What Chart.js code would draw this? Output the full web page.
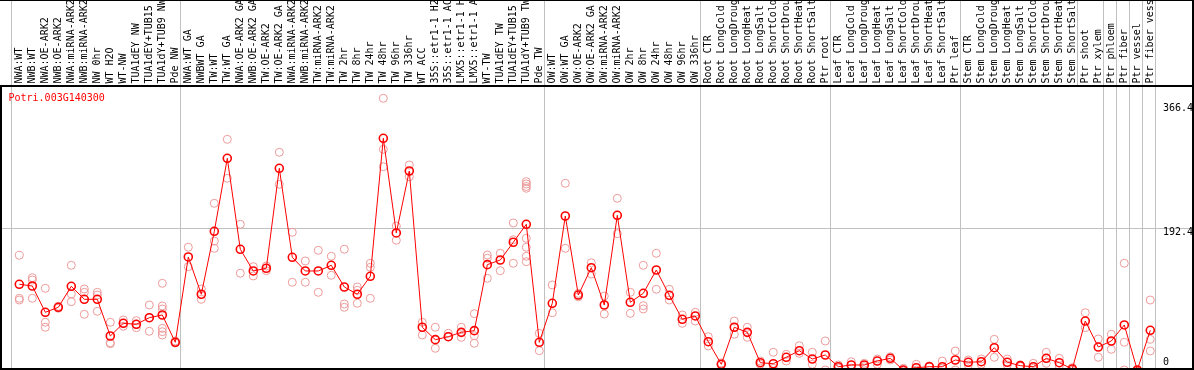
<!DOCTYPE html>
<html>
<head>
<meta charset="utf-8">
<script src="https://cdn.jsdelivr.net/npm/chart.js@4/dist/chart.umd.min.js"></script>
<style>
html,body{margin:0;padding:0;background:#fff;}
canvas{display:block;}
</style>
</head>
<body>
<canvas id="c" width="1194" height="370"></canvas>
<script>
const geneId = 'Potri.003G140300';

const categories = [
  'NWA:WT','NWB:WT','NWA:OE-ARK2','NWB:OE-ARK2','NWA:miRNA-ARK2','NWB:miRNA-ARK2','NW 0hr','WT H2O','WT-NW',
  'TUA1dEY NW','TUA1dEY+TUB15 NW','TUA1dY+TUB9 NW','Pde NW',
  'NWA:WT GA','NWBWT GA','TW:WT','TW:WT GA','NWA:OE-ARK2 GA','NWB:OE-ARK2 GA','TW:OE-ARK2','TW:OE-ARK2 GA',
  'NWA:miRNA-ARK2','NWB:miRNA-ARK2','TW:miRNA-ARK2','TW:miRNA-ARK2','TW 2hr','TW 8hr','TW 24hr','TW 48hr',
  'TW 96hr','TW 336hr','WT ACC','35S::etr1-1 H2O','35S::etr1-1 ACC','LMX5::etr1-1 H2O','LMX5::etr1-1 ACC',
  'WT-TW','TUA1dEY TW','TUA1dEY+TUB15 TW','TUA1dY+TUB9 TW','Pde TW',
  'OW:WT','OW:WT GA','OW:OE-ARK2','OW:OE-ARK2 GA','OW:miRNA-ARK2','OW:miRNA-ARK2','OW 2hr','OW 8hr','OW 24hr',
  'OW 48hr','OW 96hr','OW 336hr',
  'Root CTR','Root LongCold','Root LongDrought','Root LongHeat','Root LongSalt','Root ShortCold',
  'Root ShortDrought','Root ShortHeat','Root ShortSalt','Ptr root',
  'Leaf CTR','Leaf LongCold','Leaf LongDrought','Leaf LongHeat','Leaf LongSalt','Leaf ShortCold',
  'Leaf ShortDrought','Leaf ShortHeat','Leaf ShortSalt','Ptr leaf',
  'Stem CTR','Stem LongCold','Stem LongDrought','Stem LongHeat','Stem LongSalt','Stem ShortCold',
  'Stem ShortDrought','Stem ShortHeat','Stem ShortSalt','Ptr shoot',
  'Ptr xylem','Ptr phloem','Ptr fiber','Ptr vessel','Ptr fiber vessel'
];

const means = [
  112.1, 109.6, 71.7, 78.9, 109.2, 90.4, 90.4, 37.5, 55.8, 54.4, 63.9, 67.8, 28.4,
  151.5, 97.7, 188.5, 293.8, 162.6, 131.3, 135.2, 279.4, 151.0, 131.3, 131.3, 139.5, 108.2, 97.7, 123.6, 322.7,
  186.1, 275.5, 50.1, 32.2, 36.5, 42.8, 45.2, 140.4, 147.1, 172.7, 198.6, 28.4,
  84.7, 210.6, 96.6, 136.0, 82.2, 211.6, 86.1, 99.1, 132.7, 96.2, 61.6, 66.4,
  29.3, -3.3, 50.1, 42.8, -1.0, -2.5, 6.8, 16.3, 4.3, 10.1,
  -6.8, -4.3, -4.3, 1.4, 5.3, -11.5, -8.2, -6.8, -6.8, 2.9,
  -0.4, 0.4, 20.6, -0.4, -5.3, -6.8, 5.3, -1.0, -10.1, 59.1,
  21.6, 30.3, 53.4, -11.5, 45.7
];

const replicates = [
  [153.9, 91.9, 89.4], [121.6, 118.3, 91.9], [106.3, 57.3, 50.1], [80.3, 77.5], [139.5, 98.1, 87.0],
  [105.3, 100.5, 68.8], [100.5, 96.6, 73.1], [57.3, 27.8, 26.4], [60.6, 55.8, 51.5], [59.6, 54.4, 49.5],
  [82.2, 63.9, 44.3], [113.5, 80.8, 76.5, 48.6, 43.7, 38.9], [30.3, 27.4],
  [165.5, 137.5], [105.3, 90.4], [228.9, 174.5, 164.0], [321.2, 265.0], [198.6, 128.0], [137.5, 124.1],
  [138.5, 131.7], [302.5, 256.3], [187.1, 115.0], [145.7, 115.0], [161.1, 100.5], [152.5, 125.1],
  [162.6, 83.7, 78.9], [108.2, 103.4, 84.7], [142.4, 136.6, 91.9], [380.4, 306.8, 281.7], [196.2, 175.6],
  [284.2, 267.3], [57.3, 38.9], [50.1, 19.8], [41.4, 36.5], [50.1, 35.6], [69.7, 37.9, 27.0],
  [154.3, 149.6, 120.7], [156.8, 131.7], [200.5, 176.4, 142.4],
  [260.1, 256.8, 253.2, 250.6, 178.4, 165.5, 152.5, 144.7], [41.4, 16.3],
  [111.1, 71.1], [257.8, 164.0], [99.0, 94.0], [143.2, 126.9], [95.2, 69.2], [236.1, 185.1], [100.5, 70.2],
  [139.5, 81.2, 76.5], [156.8, 104.9], [104.9, 89.4], [67.8, 55.8], [71.7, 59.1],
  [36.5, 23.1], [-3.3, -1.4], [59.1, 40.0], [50.1, 35.6], [1.4, -3.3], [14.0, -9.1], [11.1, 1.4],
  [23.5, 12.5], [14.0, -3.3], [30.3, -11.5],
  [-4.3, -8.7], [0.4, -8.7], [-1.9, -6.8], [4.3, -3.3], [7.6, 2.9], [-9.1, -13.0], [-3.3, -11.5],
  [-6.8, -5.5], [1.4, -9.1], [15.9, -11.5],
  [2.9, -4.3], [4.3, -3.3], [32.7, 6.8], [4.3, -4.3], [-4.3, -6.5], [-1.9, -9.0], [14.0, -1.9],
  [5.3, -5.8], [-8.2, -12.0], [71.1, 49.5],
  [33.2, 6.8], [40.0, 18.3], [142.4, 28.4, -11.5], [-13.0], [89.4, 32.7, 15.9]
];

// column indices where a new group starts (separator lines)
const groupStarts = [0, 13, 41, 53, 63, 73, 84, 85, 86, 87, 88];
const headerOnlyStarts = [82];
const yTickValues = [0, 192.4, 366.4];
const yGridValues = [192.4];

// ---- layout / style constants ----
const FONT = { family: "'DejaVu Sans Mono', monospace", size: 10 };
const FONT_BELOW = { family: "'DejaVu Sans Mono', monospace", size: 10, lineHeight: 0.7 };
const X_MIN = -1.4077, X_MAX = 90.285;
const Y_MIN = -10.1, Y_MAX = 398.1;
const LINE_SHIFT = 0.63;
const GRID = '#c0c0c0';
const RED = '#ff0000';
const PINK = '#ec9a9a';

const meanPoints = means.map((v, i) => ({ x: i, y: v }));
const repPoints = [];
replicates.forEach((arr, i) => arr.forEach(v => repPoints.push({ x: i, y: v })));
const tickPositions = categories.map((_, i) => i - LINE_SHIFT).concat([categories.length - LINE_SHIFT]);

const framePlugin = {
  id: 'frame',
  afterDraw(chart) {
    const c = chart.ctx;
    const W = chart.width, H = chart.height;
    c.save();
    c.fillStyle = '#000';
    c.fillRect(0, 0, W, 1);          // header top
    c.fillRect(0, 85, W, 2);         // header / plot separator
    c.fillRect(0, 85, 2, H - 85);    // left
    c.fillRect(0, H - 2, W, 2);      // bottom
    c.fillRect(W - 2, 0, 2, H);      // right
    c.fillStyle = RED;
    c.font = "10px 'DejaVu Sans Mono', monospace";
    c.textBaseline = 'alphabetic';
    c.textAlign = 'left';
    c.fillText(geneId, 8.5, 101);
    c.restore();
  }
};

new Chart(document.getElementById('c'), {
  type: 'line',
  data: {
    datasets: [
      {
        label: 'replicates',
        data: repPoints,
        showLine: false,
        pointRadius: 4,
        pointBorderWidth: 1,
        pointBorderColor: PINK,
        pointBackgroundColor: 'rgba(0,0,0,0)',
        borderColor: PINK,
        order: 2
      },
      {
        label: geneId,
        data: meanPoints,
        borderColor: RED,
        borderWidth: 1,
        tension: 0,
        pointRadius: 4,
        pointBorderWidth: 1.6,
        pointBorderColor: RED,
        pointBackgroundColor: 'rgba(0,0,0,0)',
        order: 1
      }
    ]
  },
  options: {
    responsive: false,
    animation: false,
    devicePixelRatio: 1,
    events: [],
    layout: { autoPadding: false, padding: { left: 1, right: 1, top: 0, bottom: 1 } },
    plugins: { legend: { display: false }, tooltip: { enabled: false }, title: { display: false } },
    scales: {
      x: {
        type: 'linear',
        position: 'top',
        min: X_MIN,
        max: X_MAX,
        afterBuildTicks: s => { s.ticks = tickPositions.map(v => ({ value: v })); },
        afterFit: s => { s.height = 86; s.paddingLeft = 0; s.paddingRight = 0; s.paddingTop = 0; s.paddingBottom = 0; },
        border: { display: false },
        grid: {
          drawTicks: true,
          tickLength: 86,
          lineWidth: 1,
          color: c => (c.tick && groupStarts.includes(c.index)) ? GRID : 'rgba(0,0,0,0)',
          tickColor: c => (c.tick && (groupStarts.includes(c.index) || headerOnlyStarts.includes(c.index))) ? GRID : 'rgba(0,0,0,0)'
        },
        ticks: {
          autoSkip: false,
          minRotation: 90,
          maxRotation: 90,
          padding: -83.5,
          labelOffset: 20,
          color: '#000',
          font: FONT,
          callback: (v, i) => categories[i] || ''
        }
      },
      y: {
        type: 'linear',
        position: 'right',
        min: Y_MIN,
        max: Y_MAX,
        afterBuildTicks: s => { s.ticks = yTickValues.map(v => ({ value: v })); },
        afterFit: s => { s.width = 0; s.paddingTop = 0; s.paddingBottom = 0; s.paddingLeft = 0; s.paddingRight = 0; },
        border: { display: false },
        grid: {
          drawTicks: false,
          lineWidth: 1,
          color: c => (c.tick && yGridValues.includes(c.tick.value)) ? GRID : 'rgba(0,0,0,0)'
        },
        ticks: {
          mirror: true,
          crossAlign: 'far',
          padding: 0,
          color: '#000',
          font: c => (c.tick && yGridValues.includes(c.tick.value)) ? FONT_BELOW : FONT,
          callback: v => {
            const txt = (v === 0 ? '0' : v.toFixed(1));
            // labels sitting on a grid line are printed just below it
            return yGridValues.includes(v) ? ['', txt] : txt;
          }
        }
      }
    }
  },
  plugins: [framePlugin]
});
</script>
</body>
</html>
